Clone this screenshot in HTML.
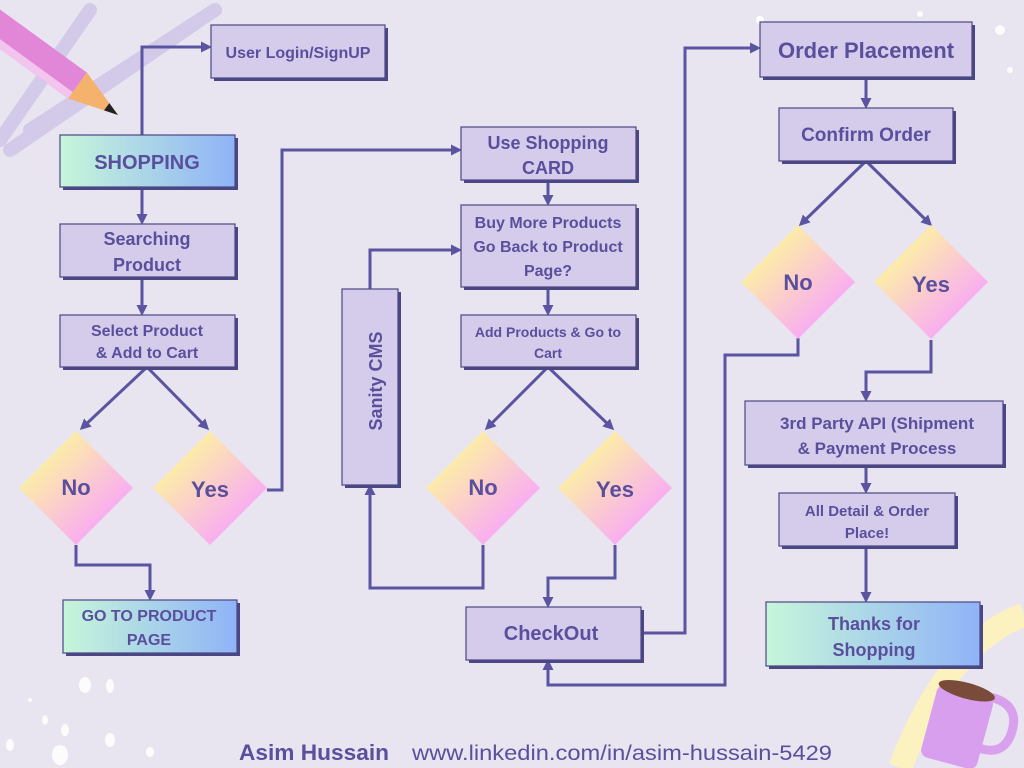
<!DOCTYPE html>
<html><head><meta charset="utf-8"><style>
html,body{margin:0;padding:0;background:#e8e5f0;}
svg{display:block}
text{font-family:"Liberation Sans",sans-serif;font-weight:bold;fill:#5a4f9c;text-anchor:middle;}
</style></head><body>
<svg width="1024" height="768" viewBox="0 0 1024 768" xmlns="http://www.w3.org/2000/svg">
<defs>
<linearGradient id="gb" x1="0" x2="1" y1="0" y2="0"><stop offset="0" stop-color="#c6f6da"/><stop offset="1" stop-color="#8fb3f7"/></linearGradient>
<linearGradient id="gd" x1="0" y1="0" x2="1" y2="1"><stop offset="0.2" stop-color="#fdf2a2"/><stop offset="0.75" stop-color="#f9aef0"/></linearGradient>
<marker id="ar" markerWidth="11" markerHeight="11" refX="8" refY="5.5" orient="auto" markerUnits="userSpaceOnUse"><path d="M0,0 L11,5.5 L0,11 z" fill="#5b54a0"/></marker>
</defs>
<rect width="1024" height="768" fill="#e8e5f0"/>
<!-- scribbles -->
<g stroke="#d0c8e8" stroke-width="14" fill="none" stroke-linecap="round" opacity="0.9">
<path d="M0,140 L90,10"/><path d="M10,150 L200,20"/><path d="M30,130 L215,10"/>
</g>
<!-- pencil -->
<g transform="translate(118,115) rotate(36)">
<rect x="-170" y="-16" width="120" height="32" fill="#e287d8"/>
<rect x="-170" y="8" width="120" height="8" fill="#f2c4ee"/>
<path d="M-50,-16 L0,0 L-50,16 z" fill="#f4b26c"/>
<path d="M-14,-4.5 L0,0 L-14,4.5 z" fill="#222"/>
</g>
<!-- dots -->
<g fill="#fff" opacity="0.9">
<ellipse cx="85" cy="685" rx="6" ry="8"/><ellipse cx="110" cy="686" rx="4" ry="7"/><circle cx="30" cy="700" r="2"/>
<ellipse cx="45" cy="720" rx="3" ry="5"/><ellipse cx="65" cy="730" rx="4" ry="6"/><ellipse cx="110" cy="740" rx="5" ry="7"/>
<ellipse cx="10" cy="745" rx="4" ry="6"/><ellipse cx="60" cy="755" rx="8" ry="10"/><ellipse cx="150" cy="752" rx="4" ry="5"/>
<circle cx="760" cy="20" r="4"/><circle cx="920" cy="14" r="3"/><circle cx="1000" cy="30" r="5"/><circle cx="1010" cy="70" r="3"/>
</g>
<!-- yellow arc + mug -->
<path d="M900,768 Q950,640 1024,615" stroke="#fbf2bf" stroke-width="24" fill="none"/>
<g transform="rotate(15 960 720)">
<path d="M985,690 q30,0 28,30 q-2,25 -30,22" stroke="#d9a0ee" stroke-width="9" fill="none"/>
<rect x="930" y="690" width="58" height="75" rx="8" fill="#d89fee"/>
<ellipse cx="959" cy="690" rx="29" ry="8" fill="#7a4a3a"/>
</g>
<!-- connectors -->
<g stroke="#5b54a0" stroke-width="3" fill="none">
<path d="M142,135 V47 H209" marker-end="url(#ar)"/>
<path d="M142,187 V222" marker-end="url(#ar)"/>
<path d="M142,277 V313" marker-end="url(#ar)"/>
<path d="M147,367 L82,428" marker-end="url(#ar)"/>
<path d="M147,367 L207,428" marker-end="url(#ar)"/>
<path d="M76,545 V565 H150 V598" marker-end="url(#ar)"/>
<path d="M267,490 H282 V150 H459" marker-end="url(#ar)"/>
<path d="M548,180 V203" marker-end="url(#ar)"/>
<path d="M548,287 V313" marker-end="url(#ar)"/>
<path d="M370,289 V250 H459" marker-end="url(#ar)"/>
<path d="M548,367 L487,428" marker-end="url(#ar)"/>
<path d="M548,367 L612,428" marker-end="url(#ar)"/>
<path d="M483,545 V588 H370 V487" marker-end="url(#ar)"/>
<path d="M615,545 V578 H548 V605" marker-end="url(#ar)"/>
<path d="M641,633 H685 V48 H758" marker-end="url(#ar)"/>
<path d="M866,77 V106" marker-end="url(#ar)"/>
<path d="M866,161 L801,224" marker-end="url(#ar)"/>
<path d="M866,161 L930,224" marker-end="url(#ar)"/>
<path d="M798,338 V355 H725 V685 H548 V662" marker-end="url(#ar)"/>
<path d="M931,340 V372 H866 V399" marker-end="url(#ar)"/>
<path d="M866,465 V491" marker-end="url(#ar)"/>
<path d="M866,546 V600" marker-end="url(#ar)"/>
</g>
<!-- boxes -->
<g stroke="#4b4784" stroke-width="1.2">
<g fill="#4b4784" stroke="none">
<rect x="214" y="28" width="174" height="53"/><rect x="63" y="138" width="175" height="52"/>
<rect x="63" y="227" width="175" height="53"/><rect x="63" y="318" width="175" height="52"/>
<rect x="66" y="603" width="174" height="53"/><rect x="345" y="292" width="56" height="196"/>
<rect x="464" y="130" width="175" height="53"/><rect x="464" y="208" width="175" height="82"/>
<rect x="464" y="318" width="175" height="52"/><rect x="469" y="610" width="175" height="53"/>
<rect x="763" y="25" width="212" height="55"/><rect x="782" y="111" width="174" height="53"/>
<rect x="748" y="404" width="258" height="64"/><rect x="782" y="496" width="176" height="53"/>
<rect x="769" y="605" width="214" height="64"/>
</g>
<rect x="211" y="25" width="174" height="53" fill="#d5ccec"/>
<rect x="60" y="135" width="175" height="52" fill="url(#gb)"/>
<rect x="60" y="224" width="175" height="53" fill="#d5ccec"/>
<rect x="60" y="315" width="175" height="52" fill="#d5ccec"/>
<rect x="63" y="600" width="174" height="53" fill="url(#gb)"/>
<rect x="342" y="289" width="56" height="196" fill="#d5ccec"/>
<rect x="461" y="127" width="175" height="53" fill="#d5ccec"/>
<rect x="461" y="205" width="175" height="82" fill="#d5ccec"/>
<rect x="461" y="315" width="175" height="52" fill="#d5ccec"/>
<rect x="466" y="607" width="175" height="53" fill="#d5ccec"/>
<rect x="760" y="22" width="212" height="55" fill="#d5ccec"/>
<rect x="779" y="108" width="174" height="53" fill="#d5ccec"/>
<rect x="745" y="401" width="258" height="64" fill="#d5ccec"/>
<rect x="779" y="493" width="176" height="53" fill="#d5ccec"/>
<rect x="766" y="602" width="214" height="64" fill="url(#gb)"/>
</g>
<!-- diamonds -->
<g fill="url(#gd)">
<path d="M76,431 L133,488 L76,545 L19,488 z"/>
<path d="M210,431 L267,488 L210,545 L153,488 z"/>
<path d="M483,431 L540,488 L483,545 L426,488 z"/>
<path d="M615,431 L672,488 L615,545 L558,488 z"/>
<path d="M798,225 L855,282 L798,339 L741,282 z"/>
<path d="M931,225 L988,282 L931,339 L874,282 z"/>
</g>
<!-- labels -->
<text x="298" y="58" font-size="16">User Login/SignUP</text>
<text x="147" y="169" font-size="20">SHOPPING</text>
<text x="147" y="245" font-size="18">Searching</text>
<text x="147" y="271" font-size="18">Product</text>
<text x="147" y="336" font-size="16">Select Product</text>
<text x="147" y="358" font-size="16">&amp; Add to Cart</text>
<text x="76" y="495" font-size="22">No</text>
<text x="210" y="497" font-size="22">Yes</text>
<text x="149" y="621" font-size="16">GO TO PRODUCT</text>
<text x="149" y="645" font-size="16">PAGE</text>
<text x="376" y="387" font-size="18" transform="rotate(-90 376 381)">Sanity CMS</text>
<text x="548" y="149" font-size="18">Use Shopping</text>
<text x="548" y="174" font-size="18">CARD</text>
<text x="548" y="228" font-size="16">Buy More Products</text>
<text x="548" y="252" font-size="16">Go Back to Product</text>
<text x="548" y="276" font-size="16">Page?</text>
<text x="548" y="337" font-size="14">Add Products &amp; Go to</text>
<text x="548" y="358" font-size="14">Cart</text>
<text x="483" y="495" font-size="22">No</text>
<text x="615" y="497" font-size="22">Yes</text>
<text x="551" y="640" font-size="20">CheckOut</text>
<text x="866" y="58" font-size="22">Order Placement</text>
<text x="866" y="141" font-size="19">Confirm Order</text>
<text x="798" y="290" font-size="22">No</text>
<text x="931" y="292" font-size="22">Yes</text>
<text x="877" y="429" font-size="17">3rd Party API (Shipment</text>
<text x="877" y="454" font-size="17">&amp; Payment Process</text>
<text x="867" y="516" font-size="15">All Detail &amp; Order</text>
<text x="867" y="538" font-size="15">Place!</text>
<text x="874" y="630" font-size="18">Thanks for</text>
<text x="874" y="656" font-size="18">Shopping</text>
<text x="314" y="760" font-size="22" textLength="150" lengthAdjust="spacingAndGlyphs">Asim Hussain</text>
<text x="622" y="760" font-size="21" style="font-weight:normal" textLength="420" lengthAdjust="spacingAndGlyphs">www.linkedin.com/in/asim-hussain-5429</text>
</svg>
</body></html>
